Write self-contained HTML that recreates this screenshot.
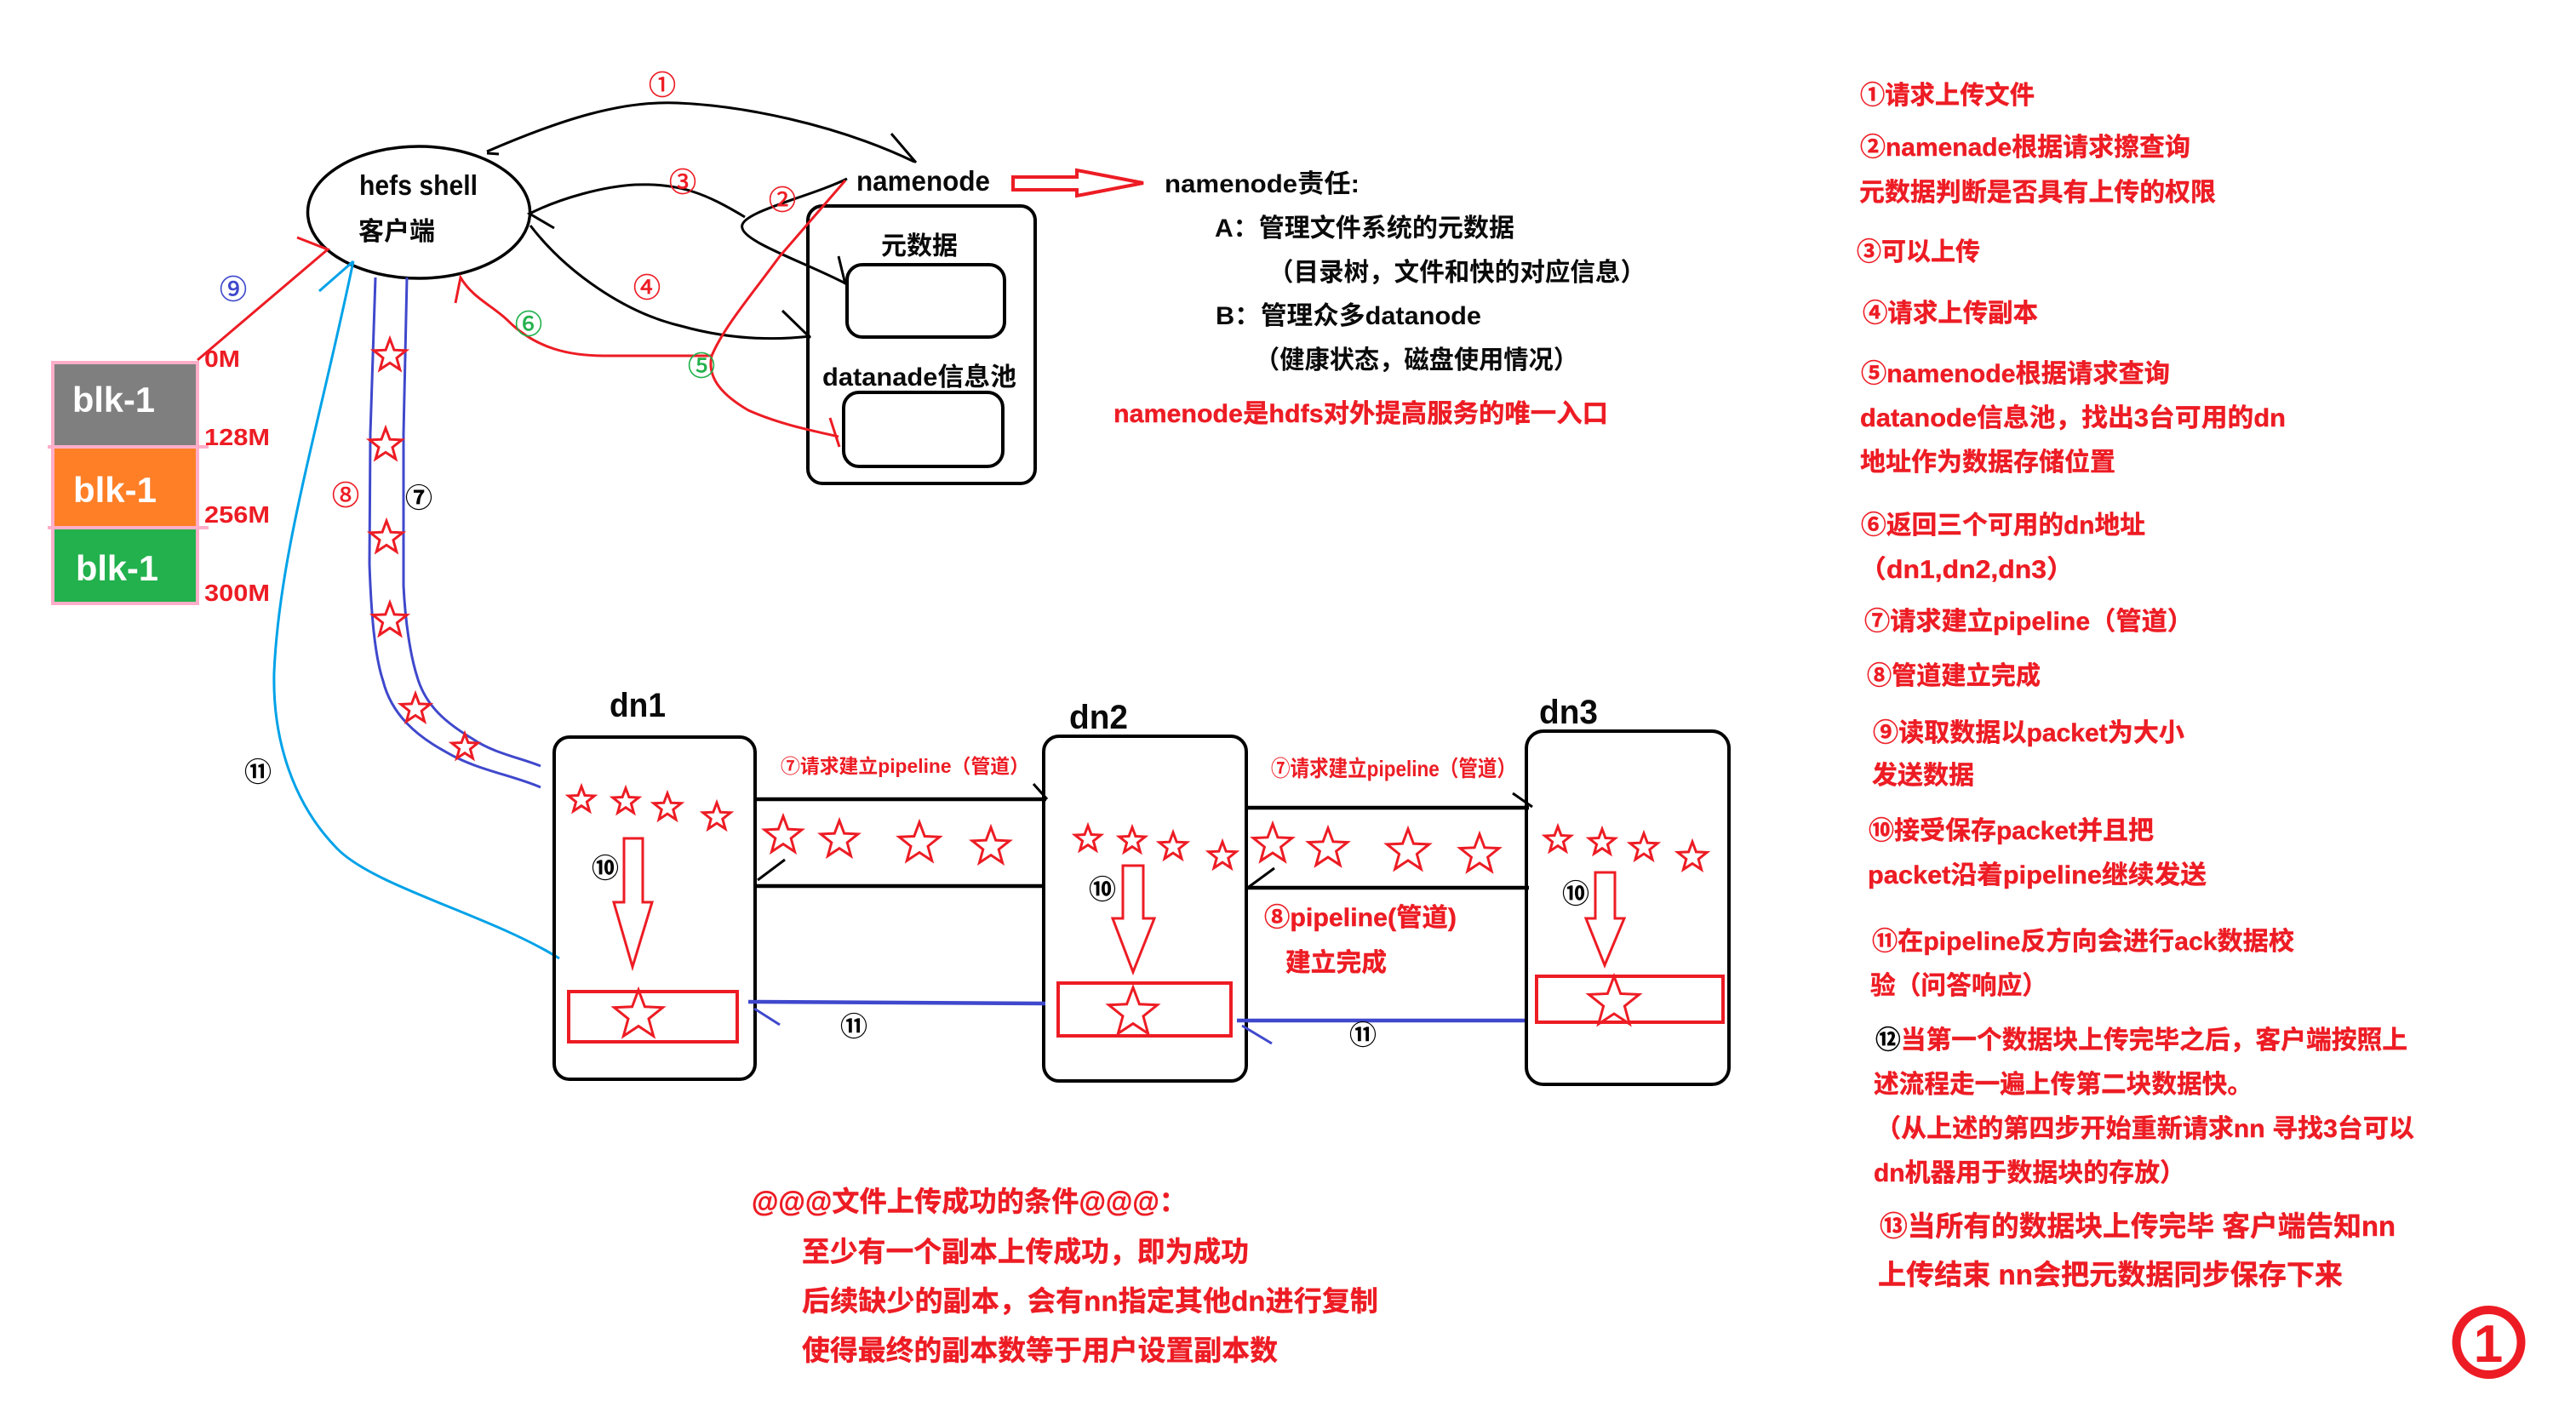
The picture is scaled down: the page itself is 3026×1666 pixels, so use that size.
<!DOCTYPE html>
<html lang="zh"><head><meta charset="utf-8"><title>HDFS</title>
<style>
html,body{margin:0;padding:0;background:#fff}
svg{display:block}
text{font-family:"Liberation Sans","Noto Sans CJK SC",sans-serif;font-weight:700}
.k{fill:#0a0a0a;font-size:30px}
.r{fill:#ed1c24;font-size:30px;stroke:#ed1c24;stroke-width:.4px}
.r33{fill:#ed1c24;font-size:33px;stroke:#ed1c24;stroke-width:.4px}
.n{font-size:32px;font-weight:400;text-anchor:middle;font-family:"Noto Sans CJK SC",sans-serif;stroke:currentColor;stroke-width:.6px}
.nb{font-size:32px;font-weight:700;text-anchor:middle;font-family:"Noto Sans CJK SC",sans-serif;fill:#000}
.l{fill:none;stroke:#000;stroke-width:3}
.b{fill:none;stroke:#000;stroke-width:4}
.red{fill:none;stroke:#ed1c24;stroke-width:3}
.bl{fill:none;stroke:#3f48cc;stroke-width:3}
.rb{fill:none;stroke:#ed1c24;stroke-width:4}
.st{fill:#fff;stroke:#ed1c24;stroke-width:3}
</style></head><body>
<svg xmlns="http://www.w3.org/2000/svg" width="3026" height="1666" viewBox="0 0 3026 1666">
<defs><polygon id="s" vector-effect="non-scaling-stroke" points="0,-1 .247,-.34 .951,-.309 .4,.13 .588,.809 0,.42 -.588,.809 -.4,.13 -.951,-.309 -.247,-.34"/></defs>
<rect width="3026" height="1666" fill="#fff"/>

<!-- blocks -->
<rect x="62" y="426" width="170" height="99" fill="#7f7f7f" stroke="#ffaec9" stroke-width="4"/>
<rect x="62" y="525" width="170" height="95" fill="#ff7f27" stroke="#ffaec9" stroke-width="4"/>
<rect x="62" y="620" width="170" height="89" fill="#22b14c" stroke="#ffaec9" stroke-width="4"/>
<path d="M56,525H245M56,620H245" stroke="#ffaec9" stroke-width="4" fill="none"/>
<text x="85" y="484" fill="#fff" font-size="42" textLength="97" lengthAdjust="spacingAndGlyphs">blk-1</text>
<text x="86" y="590" fill="#fff" font-size="42" textLength="98" lengthAdjust="spacingAndGlyphs">blk-1</text>
<text x="89" y="682" fill="#fff" font-size="42" textLength="97" lengthAdjust="spacingAndGlyphs">blk-1</text>
<g fill="#ed1c24" font-size="28">
<text x="240" y="431" textLength="42" lengthAdjust="spacingAndGlyphs">0M</text>
<text x="240" y="523" textLength="77" lengthAdjust="spacingAndGlyphs">128M</text>
<text x="240" y="614" textLength="77" lengthAdjust="spacingAndGlyphs">256M</text>
<text x="240" y="706" textLength="77" lengthAdjust="spacingAndGlyphs">300M</text>
</g>

<!-- client -->
<ellipse cx="492" cy="249.500" rx="130.500" ry="77.500" fill="#fff" stroke="#000" stroke-width="3.500"/>
<text x="422" y="229" class="k" style="font-size:33px" textLength="139" lengthAdjust="spacingAndGlyphs">hefs shell</text>
<text x="421" y="282" class="k" textLength="90" lengthAdjust="spacingAndGlyphs">客户端</text>

<!-- namenode -->
<text x="1006" y="224" class="k" style="font-size:33px" textLength="157" lengthAdjust="spacingAndGlyphs">namenode</text>
<polygon class="red" style="stroke-width:4" points="1190,208 1265,208 1265,200 1343,215 1265,230 1265,223 1190,223"/>
<rect class="b" x="949" y="242" width="267" height="326" rx="17"/>
<rect class="b" x="995" y="311" width="185" height="85" rx="18"/>
<rect class="b" x="991" y="461" width="187" height="87" rx="18"/>
<text x="1035" y="299" class="k" textLength="90" lengthAdjust="spacingAndGlyphs">元数据</text>
<text x="966" y="453" class="k" textLength="228" lengthAdjust="spacingAndGlyphs">datanade信息池</text>

<!-- curves -->
<path class="l" d="M572,178C660,140 730,118 796,121C870,124 980,145 1074,190M1047,157L1076,191M572,180L586,181"/>
<path class="l" d="M875,255C830,228 800,215 746,217C710,219 660,232 622,251L651,268"/>
<path class="l" d="M995,210C950,232 865,250 872,268C875,285 950,310 995,334M985,301L993,334"/>
<path class="l" d="M623,265C665,320 735,368 800,383C850,397 900,401 952,395M919,365L952,397"/>
<path class="red" d="M993,212L916,301C880,350 850,385 836,418C830,445 850,465 879,482C915,498 950,505 985,513M975,491L986,525"/>
<path class="red" d="M837,418L710,418C670,418 630,410 597,377C580,360 555,350 541,326L535,356"/>
<path class="red" d="M232,423L385,293L349,279"/>
<path fill="none" stroke="#00a2e8" stroke-width="3" d="M415,307C375,500 328,650 322,790C320,870 345,945 396,997C440,1042 575,1075 657,1126M415,307L375,342"/>
<path class="bl" d="M441,326L435,510L434,663C436,720 440,770 450,800C460,840 490,865 523,883C560,905 600,910 635,925"/>
<path class="bl" d="M478,326L474,510L474,688C476,730 482,770 490,795C500,830 525,850 555,868C580,885 610,890 635,900"/>

<!-- pipe stars -->
<g class="st">
<use href="#s" transform="translate(458,418) scale(20)"/>
<use href="#s" transform="translate(453,523) scale(20)"/>
<use href="#s" transform="translate(454,632) scale(20)"/>
<use href="#s" transform="translate(458,729) scale(21)"/>
<use href="#s" transform="translate(488,833) scale(18)"/>
<use href="#s" transform="translate(546,878) scale(16)"/>
</g>

<!-- dn boxes -->
<rect class="b" x="651" y="866" width="236" height="402" rx="18"/>
<rect class="b" x="1226" y="865" width="238" height="405" rx="18"/>
<rect class="b" x="1793" y="859" width="238" height="415" rx="20"/>
<text x="716" y="842" class="k" style="font-size:40px" textLength="66" lengthAdjust="spacingAndGlyphs">dn1</text>
<text x="1256" y="856" class="k" style="font-size:40px" textLength="69" lengthAdjust="spacingAndGlyphs">dn2</text>
<text x="1808" y="850" class="k" style="font-size:40px" textLength="69" lengthAdjust="spacingAndGlyphs">dn3</text>

<!-- pipelines -->
<path fill="none" stroke="#000" stroke-width="4.500" d="M886,939H1229M886,1041H1228M1464,949H1796M1464,1043H1796"/>
<path class="l" d="M1214,921L1230,939M922,1010L890,1034M1777,932L1800,948M1497,1020L1467,1042"/>
<path fill="none" stroke="#3f48cc" stroke-width="4.500" d="M879,1177L1228,1179M1453,1199H1791"/>
<path class="bl" d="M886,1185L916,1204M1459,1205L1494,1226"/>

<!-- arrows + red boxes -->
<polygon class="red" points="733,985 755,985 755,1060 766,1060 743,1136 721,1060 733,1060"/>
<polygon class="red" points="1319,1017 1343,1017 1343,1079 1356,1079 1331,1142 1307,1079 1319,1079"/>
<polygon class="red" points="1874,1025 1897,1025 1897,1079 1908,1079 1885,1134 1863,1079 1874,1079"/>
<rect class="rb" x="668" y="1165" width="198" height="59"/>
<rect class="rb" x="1243" y="1155" width="203" height="62"/>
<rect class="rb" x="1805" y="1147" width="219" height="54"/>

<!-- dn stars -->
<g class="st">
<use href="#s" transform="translate(683,940) scale(16)"/><use href="#s" transform="translate(735,942) scale(16)"/><use href="#s" transform="translate(784,949) scale(17)"/><use href="#s" transform="translate(842,960) scale(17)"/>
<use href="#s" transform="translate(920,982) scale(23)"/><use href="#s" transform="translate(986,987) scale(23)"/><use href="#s" transform="translate(1080,991) scale(25)"/><use href="#s" transform="translate(1164,995) scale(23)"/>
<use href="#s" transform="translate(750,1193) scale(30)"/>
<use href="#s" transform="translate(1278,986) scale(16)"/><use href="#s" transform="translate(1330,988) scale(16)"/><use href="#s" transform="translate(1378,995) scale(17)"/><use href="#s" transform="translate(1436,1006) scale(17)"/>
<use href="#s" transform="translate(1495,992) scale(24)"/><use href="#s" transform="translate(1560,997) scale(24)"/><use href="#s" transform="translate(1654,1000) scale(26)"/><use href="#s" transform="translate(1738,1004) scale(24)"/>
<use href="#s" transform="translate(1331,1190) scale(30)"/>
<use href="#s" transform="translate(1830,987) scale(16)"/><use href="#s" transform="translate(1882,990) scale(16)"/><use href="#s" transform="translate(1931,996) scale(17)"/><use href="#s" transform="translate(1988,1007) scale(18)"/>
<use href="#s" transform="translate(1896,1178) scale(31)"/>
</g>

<!-- pipeline labels -->
<text x="917" y="908" fill="#ed1c24" font-size="23" textLength="292" lengthAdjust="spacingAndGlyphs">⑦请求建立pipeline（管道）</text>
<text x="1493" y="912" fill="#ed1c24" font-size="26" textLength="288" lengthAdjust="spacingAndGlyphs">⑦请求建立pipeline（管道）</text>
<text x="1485" y="1088" class="r" textLength="226" lengthAdjust="spacingAndGlyphs">⑧pipeline(管道)</text>
<text x="1510" y="1141" class="r" textLength="119" lengthAdjust="spacingAndGlyphs">建立完成</text>

<!-- circled numbers -->
<g fill="#ed1c24" color="#ed1c24">
<text class="n" x="778" y="111">①</text><text class="n" x="919" y="246">②</text><text class="n" x="802" y="225">③</text><text class="n" x="760" y="349">④</text><text class="n" x="406" y="593">⑧</text>
</g>
<g fill="#22b14c" color="#22b14c"><text class="n" x="824" y="441">⑤</text><text class="n" x="621" y="392">⑥</text></g>
<text class="n" x="274" y="351" fill="#3f48cc" color="#3f48cc">⑨</text>
<text class="nb" x="492" y="596">⑦</text>
<text class="nb" x="303" y="918">⑪</text>
<text class="nb" x="711" y="1031">⑩</text>
<text class="nb" x="1003" y="1217">⑪</text>
<text class="nb" x="1295" y="1056">⑩</text>
<text class="nb" x="1601" y="1227">⑪</text>
<text class="nb" x="1851" y="1061">⑩</text>

<!-- namenode duties -->
<text x="1368" y="226" class="k" textLength="229" lengthAdjust="spacingAndGlyphs">namenode责任:</text>
<text x="1427" y="278" class="k" textLength="352" lengthAdjust="spacingAndGlyphs">A：管理文件系统的元数据</text>
<text x="1490" y="330" class="k" textLength="443" lengthAdjust="spacingAndGlyphs">（目录树，文件和快的对应信息）</text>
<text x="1428" y="381" class="k" textLength="312" lengthAdjust="spacingAndGlyphs">B：管理众多datanode</text>
<text x="1474" y="433" class="k" textLength="380" lengthAdjust="spacingAndGlyphs">（健康状态，磁盘使用情况）</text>
<text x="1308" y="496" class="r" textLength="581" lengthAdjust="spacingAndGlyphs">namenode是hdfs对外提高服务的唯一入口</text>

<!-- success conditions -->
<text x="883" y="1423" class="r33" textLength="511" lengthAdjust="spacingAndGlyphs">@@@文件上传成功的条件@@@：</text>
<text x="942" y="1482" class="r33" textLength="525" lengthAdjust="spacingAndGlyphs">至少有一个副本上传成功，即为成功</text>
<text x="942" y="1540" class="r33" textLength="677" lengthAdjust="spacingAndGlyphs">后续缺少的副本，会有nn指定其他dn进行复制</text>
<text x="942" y="1598" class="r33" textLength="559" lengthAdjust="spacingAndGlyphs">使得最终的副本数等于用户设置副本数</text>

<!-- right column -->
<text x="2185" y="122" class="r" textLength="205" lengthAdjust="spacingAndGlyphs">①请求上传文件</text>
<text x="2185" y="183" class="r" textLength="388" lengthAdjust="spacingAndGlyphs">②namenade根据请求擦查询</text>
<text x="2184" y="236" class="r" textLength="419" lengthAdjust="spacingAndGlyphs">元数据判断是否具有上传的权限</text>
<text x="2181" y="306" class="r" textLength="145" lengthAdjust="spacingAndGlyphs">③可以上传</text>
<text x="2188" y="378" class="r" textLength="206" lengthAdjust="spacingAndGlyphs">④请求上传副本</text>
<text x="2186" y="449" class="r" textLength="363" lengthAdjust="spacingAndGlyphs">⑤namenode根据请求查询</text>
<text x="2185" y="501" class="r" textLength="500" lengthAdjust="spacingAndGlyphs">datanode信息池，找出3台可用的dn</text>
<text x="2185" y="553" class="r" textLength="300" lengthAdjust="spacingAndGlyphs">地址作为数据存储位置</text>
<text x="2186" y="627" class="r" textLength="334" lengthAdjust="spacingAndGlyphs">⑥返回三个可用的dn地址</text>
<text x="2184" y="679" class="r" textLength="252" lengthAdjust="spacingAndGlyphs">（dn1,dn2,dn3）</text>
<text x="2190" y="740" class="r" textLength="386" lengthAdjust="spacingAndGlyphs">⑦请求建立pipeline（管道）</text>
<text x="2193" y="804" class="r" textLength="204" lengthAdjust="spacingAndGlyphs">⑧管道建立完成</text>
<text x="2200" y="871" class="r" textLength="366" lengthAdjust="spacingAndGlyphs">⑨读取数据以packet为大小</text>
<text x="2199" y="921" class="r" textLength="120" lengthAdjust="spacingAndGlyphs">发送数据</text>
<text x="2195" y="986" class="r" textLength="335" lengthAdjust="spacingAndGlyphs">⑩接受保存packet并且把</text>
<text x="2194" y="1038" class="r" textLength="398" lengthAdjust="spacingAndGlyphs">packet沿着pipeline继续发送</text>
<text x="2199" y="1116" class="r" textLength="496" lengthAdjust="spacingAndGlyphs">⑪在pipeline反方向会进行ack数据校</text>
<text x="2197" y="1168" class="r" textLength="208" lengthAdjust="spacingAndGlyphs">验（问答响应）</text>
<text x="2203" y="1232" class="r" textLength="625" lengthAdjust="spacingAndGlyphs"><tspan fill="#000" stroke="#000">⑫</tspan>当第一个数据块上传完毕之后，客户端按照上</text>
<text x="2201" y="1284" class="r" textLength="445" lengthAdjust="spacingAndGlyphs">述流程走一遍上传第二块数据快。</text>
<text x="2203" y="1336" class="r" textLength="633" lengthAdjust="spacingAndGlyphs">（从上述的第四步开始重新请求nn 寻找3台可以</text>
<text x="2201" y="1388" class="r" textLength="366" lengthAdjust="spacingAndGlyphs">dn机器用于数据块的存放）</text>
<text x="2208" y="1452" class="r33" textLength="606" lengthAdjust="spacingAndGlyphs">⑬当所有的数据块上传完毕 客户端告知nn</text>
<text x="2206" y="1509" class="r33" textLength="546" lengthAdjust="spacingAndGlyphs">上传结束 nn会把元数据同步保存下来</text>

<!-- big number -->
<circle cx="2923.500" cy="1577" r="38" fill="none" stroke="#ed1c24" stroke-width="10"/>
<text x="2923" y="1600" text-anchor="middle" fill="#ed1c24" font-size="62">1</text>
</svg>
</body></html>
